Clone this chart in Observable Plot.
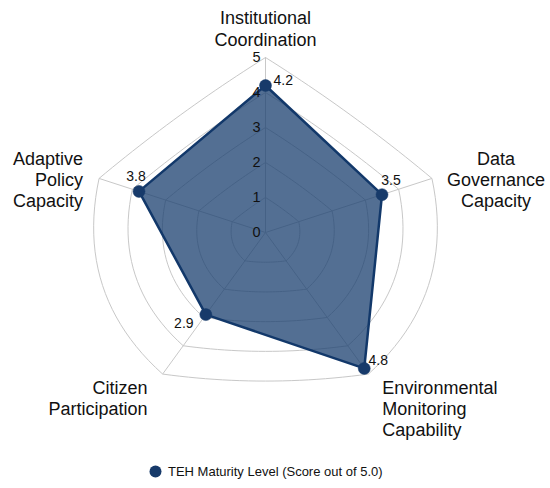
<!DOCTYPE html>
<html>
<head>
<meta charset="utf-8">
<script src="https://cdn.jsdelivr.net/npm/d3@7"></script>
<script src="https://cdn.jsdelivr.net/npm/@observablehq/plot@0.6"></script>
<style>
  html, body { margin: 0; padding: 0; background: #fff; }
  body { width: 550px; height: 488px; overflow: hidden; font-family: "Liberation Sans", Arial, sans-serif; }
  #legend { height: 38px; box-sizing: border-box; padding-top: 5px; padding-left: 149px; display: flex; align-items: center; gap: 6px; font-size: 13px; color: #111; }
</style>
</head>
<body>
<div id="chart"></div>
<div id="legend"></div>
<script>
// ---- data ----
const axes = [
  "Institutional\nCoordination",
  "Data\nGovernance\nCapacity",
  "Environmental\nMonitoring\nCapability",
  "Citizen\nParticipation",
  "Adaptive\nPolicy\nCapacity"
];
const scores = [4.2, 3.5, 4.8, 2.9, 3.8];
const scoreLabels = ["4.2", "3.5", "4.8", "2.9", "3.8"];
const ticks = [0, 1, 2, 3, 4, 5];
const tickLabels = ["0", "1", "2", "3", "4", "5"];
const seriesName = "TEH Maturity Level (Score out of 5.0)";

// ---- layout (not data) ----
const W = 550, H = 450, unit = 35, cx = 265, cy = 232;
const maxR = 5;
const edgeBow = [0.02, 0.17, 0.04, 0.17, 0.02];
const axisLabelLayout = [
  {dx: 0,   dy: -12, textAnchor: "middle", lineAnchor: "bottom"},
  {dx: 64,  dy: 1,  textAnchor: "middle", lineAnchor: "middle"},
  {dx: 14,  dy: 5,  textAnchor: "start",  lineAnchor: "top"},
  {dx: -15, dy: 5,  textAnchor: "end",    lineAnchor: "top"},
  {dx: -16, dy: 1,  textAnchor: "end",    lineAnchor: "middle"}
];
const valueLabelLayout = [
  {dx: 8,   dy: -5,  textAnchor: "start"},
  {dx: 9,   dy: -14, textAnchor: "middle"},
  {dx: 14,  dy: -8,  textAnchor: "middle"},
  {dx: -22, dy: 9,   textAnchor: "middle"},
  {dx: -3,  dy: -15, textAnchor: "middle"}
];
const NAVY = "#173a6a";
const GRID = "#c8c8c8";

const n = axes.length;
const ang = i => (90 - 72 * i) * Math.PI / 180;
const px = (r, i) => r * Math.cos(ang(i));
const py = (r, i) => r * Math.sin(ang(i));

// grid rings (curved edges between spokes)
const ringPts = [];
for (const k of ticks.filter(t => t > 0)) {
  for (let i = 0; i < n; i++) {
    const j = (i + 1) % n;
    const x0 = px(k, i), y0 = py(k, i), x1 = px(k, j), y1 = py(k, j);
    const mx = (x0 + x1) / 2, my = (y0 + y1) / 2;
    const ml = Math.hypot(mx, my);
    const c = 2 * edgeBow[i] * k;
    const qx = mx + mx / ml * c, qy = my + my / ml * c;
    const steps = 24;
    for (let s = (i === 0 ? 0 : 1); s <= steps; s++) {
      const t = s / steps;
      ringPts.push({
        ring: k,
        x: (1 - t) * (1 - t) * x0 + 2 * (1 - t) * t * qx + t * t * x1,
        y: (1 - t) * (1 - t) * y0 + 2 * (1 - t) * t * qy + t * t * y1
      });
    }
  }
}

const spokes = axes.map((a, i) => ({x1: 0, y1: 0, x2: px(maxR, i), y2: py(maxR, i)}));
const poly = scores.map((v, i) => ({axis: axes[i], v, label: scoreLabels[i], x: px(v, i), y: py(v, i), i}));
const tickData = ticks.map((t, i) => ({x: 0, y: t, label: tickLabels[i]}));

const marks = [
  Plot.line(ringPts, {x: "x", y: "y", z: "ring", stroke: GRID, strokeWidth: 1, curve: "linear"}),
  Plot.link(spokes, {x1: "x1", y1: "y1", x2: "x2", y2: "y2", stroke: GRID, strokeWidth: 1}),
  Plot.line(poly, {x: "x", y: "y", curve: "linear-closed", fill: "#1a3f6f", fillOpacity: 0.75, stroke: "#12386a", strokeWidth: 2.5, strokeLinejoin: "round"}),
  Plot.dot(poly, {x: "x", y: "y", r: 6, fill: NAVY, stroke: NAVY, strokeWidth: 0.5}),
  Plot.text(tickData, {x: "x", y: "y", text: "label", dx: -5, textAnchor: "end", fontSize: 14.5, fill: "#111"})
];
poly.forEach((d, i) => {
  const L = valueLabelLayout[i];
  marks.push(Plot.text([d], {x: "x", y: "y", text: "label", dx: L.dx, dy: L.dy, textAnchor: L.textAnchor, fontSize: 14, fill: "#111"}));
});
axes.forEach((a, i) => {
  const L = axisLabelLayout[i];
  marks.push(Plot.text([{x: px(maxR, i), y: py(maxR, i), t: a}], {
    x: "x", y: "y", text: "t", dx: L.dx, dy: L.dy, textAnchor: L.textAnchor, lineAnchor: L.lineAnchor,
    fontSize: 18, lineHeight: 1.17, fill: "#111"
  }));
});

const chart = Plot.plot({
  width: W, height: H,
  marginTop: 0, marginRight: 0, marginBottom: 0, marginLeft: 0,
  style: {fontFamily: "'Liberation Sans', Arial, sans-serif", background: "#fff", overflow: "visible"},
  x: {type: "linear", domain: [-cx / unit, (W - cx) / unit], range: [0, W], axis: null},
  y: {type: "linear", domain: [-(H - cy) / unit, cy / unit], range: [H, 0], axis: null},
  marks
});
document.getElementById("chart").append(chart);

// legend
const lg = document.getElementById("legend");
lg.innerHTML = `<svg width="13" height="13"><circle cx="6.5" cy="6.5" r="6" fill="${NAVY}"></circle></svg><span>${seriesName}</span>`;
</script>
</body>
</html>
